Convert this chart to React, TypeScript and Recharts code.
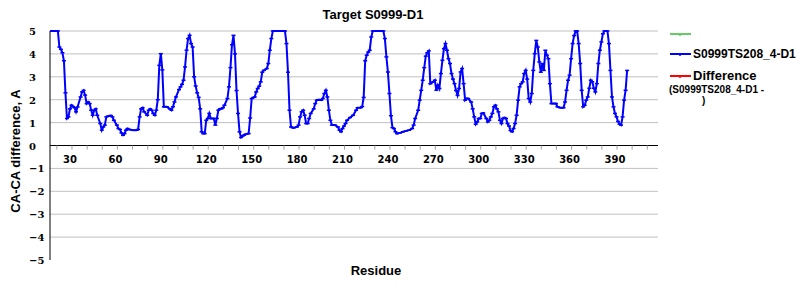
import React from "react"
import { LineChart, Line, XAxis, YAxis, ReferenceLine } from "recharts"

// residue numbers and CA-CA difference (capped at 5)
const residues = [
  17, 20, 22, 23, 24, 25, 26, 27, 28, 29, 30, 31, 32, 33, 34, 35, 37, 38, 39, 40,
  41, 42, 43, 44, 45, 46, 47, 48, 50, 51, 52, 53, 54, 55, 57, 58, 59, 61, 62, 63,
  64, 65, 66, 67, 68, 69, 72, 74, 75, 76, 77, 78, 79, 81, 82, 83, 84, 85, 86, 87,
  88, 89, 90, 91, 92, 94, 96, 97, 98, 99, 100, 102, 103, 104, 105, 106, 107, 108, 109, 110,
  111, 112, 113, 114, 115, 116, 117, 118, 119, 120, 121, 122, 123, 125, 126, 127, 128, 129, 130, 131,
  132, 134, 135, 136, 137, 138, 139, 140, 141, 142, 143, 144, 145, 146, 148, 149, 150, 151, 152, 153,
  154, 155, 156, 157, 158, 160, 161, 162, 163, 164, 166, 168, 170, 172, 173, 174, 175, 176, 177, 178,
  180, 181, 182, 183, 184, 185, 186, 187, 188, 189, 191, 192, 193, 194, 195, 196, 197, 198, 199, 200,
  201, 202, 203, 205, 207, 208, 209, 210, 211, 212, 213, 215, 217, 219, 220, 222, 223, 224, 225, 226,
  227, 228, 229, 230, 232, 234, 236, 237, 238, 239, 240, 241, 242, 243, 244, 245, 246, 248, 250, 252,
  254, 256, 257, 258, 260, 261, 262, 263, 264, 265, 266, 267, 268, 270, 271, 272, 273, 274, 275, 276,
  277, 278, 279, 280, 281, 282, 283, 284, 285, 286, 287, 288, 289, 290, 291, 292, 293, 295, 296, 297,
  298, 299, 300, 301, 302, 303, 305, 306, 307, 308, 309, 310, 311, 312, 313, 314, 315, 316, 317, 318,
  319, 320, 321, 322, 323, 324, 325, 326, 327, 328, 329, 330, 331, 332, 333, 334, 335, 336, 337, 338,
  339, 340, 341, 342, 343, 344, 345, 346, 347, 348, 350, 351, 352, 354, 356, 357, 358, 359, 360, 361,
  362, 363, 364, 365, 366, 367, 368, 369, 370, 371, 372, 373, 374, 375, 376, 377, 378, 379, 380, 381,
  382, 383, 384, 385, 386, 387, 388, 389, 390, 391, 392, 393, 394, 395, 396, 397, 398,
]

const diffValues = [
  5, 5, 5, 4.3, 4.2, 4.05, 3.7, 2.3, 1.18, 1.25, 1.6, 1.76, 1.7, 1.65, 1.47, 1.68, 2.12, 2.34, 2.41, 2.2,
  1.83, 1.9, 1.83, 1.54, 1.32, 1.54, 1.6, 1.32, 0.96, 0.67, 0.81, 0.89, 1.25, 1.28, 1.31, 1.25, 1.1, 0.89, 0.74, 0.7,
  0.55, 0.45, 0.52, 0.67, 0.74, 0.7, 0.67, 0.67, 0.7, 1.25, 1.6, 1.65, 1.47, 1.32, 1.54, 1.6, 1.54, 1.4, 1.32, 1.54,
  2.0, 3.5, 4.01, 3.3, 1.69, 1.69, 1.6, 1.54, 1.69, 1.9, 2.12, 2.44, 2.56, 2.67, 2.85, 3.43, 4.16, 4.67, 4.81, 4.45,
  4.3, 3.0, 2.6, 2.3, 2.1, 1.6, 0.6, 0.52, 0.52, 1.1, 1.18, 1.4, 1.18, 1.18, 0.89, 1.18, 1.54, 1.6, 1.6, 1.65,
  1.76, 2.05, 2.56, 3.4, 4.4, 4.81, 4.0, 2.4, 1.4, 0.6, 0.35, 0.41, 0.45, 0.49, 0.52, 1.2, 2.05, 2.09, 2.12, 2.34,
  2.49, 2.59, 2.78, 3.2, 3.28, 3.36, 3.58, 4.16, 4.67, 5, 5, 5, 5, 5, 4.45, 3.2, 1.54, 0.81, 0.78, 0.78,
  0.81, 0.89, 1.25, 1.47, 1.54, 1.32, 0.96, 0.96, 1.18, 1.4, 1.6, 1.83, 1.98, 2.0, 2.0, 1.98, 2.05, 2.27, 2.41, 2.12,
  1.54, 1.1, 0.89, 0.89, 0.81, 0.67, 0.6, 0.74, 0.85, 0.96, 1.1, 1.22, 1.32, 1.54, 1.65, 1.65, 1.7, 2.1, 3.7, 3.94,
  4.08, 4.16, 4.74, 5, 5, 5, 5, 5, 4.67, 3.87, 3.21, 2.27, 1.3, 0.78, 0.74, 0.6, 0.52, 0.55, 0.6, 0.64,
  0.67, 0.74, 0.89, 1.18, 1.54, 1.98, 2.41, 2.85, 3.4, 3.9, 4.05, 4.13, 2.7, 2.78, 2.85, 2.41, 2.63, 2.49, 3.14, 3.72,
  4.23, 4.45, 4.16, 3.79, 3.58, 3.14, 2.9, 2.7, 2.4, 2.19, 2.49, 3.21, 3.36, 2.7, 1.98, 2.05, 2.05, 1.9, 1.6, 1.25,
  0.93, 1.03, 1.18, 1.18, 1.4, 1.42, 1.18, 1.03, 1.1, 1.25, 1.4, 1.69, 1.76, 1.6, 1.47, 1.1, 0.96, 1.18, 1.22, 1.18,
  0.96, 0.85, 0.65, 0.6, 0.74, 0.96, 1.32, 1.98, 2.56, 2.7, 2.78, 3.14, 3.28, 2.9, 2.05, 1.9, 2.27, 3.28, 4.01, 4.59,
  4.3, 3.65, 3.2, 3.58, 3.28, 4.16, 3.94, 3.79, 2.7, 1.83, 1.83, 1.83, 1.69, 1.65, 1.65, 1.9, 2.41, 2.85, 3.07, 3.79,
  4.45, 4.8, 5, 5, 4.45, 3.58, 2.41, 1.69, 1.76, 1.98, 2.12, 2.5, 2.85, 2.78, 2.5, 2.34, 2.7, 3.58, 4.16, 4.52,
  4.88, 5, 5, 5, 4.45, 3.28, 2.12, 1.69, 1.4, 1.25, 1.05, 0.93, 0.89, 1.25, 1.98, 2.41, 3.28,
]

const xTicks = [20, 30, 40, 50, 60, 70, 80, 90, 100, 110, 120, 130, 140, 150, 160, 170, 180, 190, 200, 210,
  220, 230, 240, 250, 260, 270, 280, 290, 300, 310, 320, 330, 340, 350, 360, 370, 380, 390, 400, 410]
const yTicks = [-5, -4, -3, -2, -1, 0, 1, 2, 3, 4, 5]
const gridValues = [-4, -3, -2, -1, 1, 2, 3, 4, 5]

const seriesName = "S0999TS208_4-D1"
const title = "Target S0999-D1"

const data = residues.map((r, i) => ({ residue: r, diff: diffValues[i] }))

const PLOT_TOP = 31
const PLOT_H = 229
const X_AXIS_H = 20
const sansBold = "'Liberation Sans', Arial, sans-serif"

// x axis sits on the zero line, half way up the plot
const XTick = ({ x, y, payload }: any) => {
  const y0 = y - PLOT_H / 2
  return (
    <g>
      <line x1={x + 2} x2={x + 2} y1={y0} y2={y0 + 4} stroke="#a0a0a0" />
      {payload.value % 30 === 0 && (
        <text x={x} y={y0 + 17} textAnchor="middle" fontFamily="'DejaVu Sans', sans-serif"
          fontWeight="bold" fontSize={10} fill="#000">
          {payload.value}
        </text>
      )}
    </g>
  )
}

const YTick = ({ x, y, payload }: any) => (
  <text x={x - 21} y={y + 4} textAnchor="start" fontFamily="'DejaVu Serif', serif"
    fontWeight="bold" fontSize={10} fill="#000">
    {payload.value < 0 ? "\u2212" + Math.abs(payload.value) : payload.value}
  </text>
)

const Marker = ({ cx, cy }: any) => {
  if (cx == null || cy == null) return null
  return <line x1={cx - 2} x2={cx + 2} y1={cy} y2={cy} stroke="#0000ff" strokeWidth={1.5} />
}

export default function App() {
  return (
    <div style={{ position: "absolute", left: 0, top: 0, width: 800, height: 300, background: "#fff" }}>
      <LineChart width={800} height={300} data={data}
        margin={{ top: PLOT_TOP, right: 142, bottom: 300 - PLOT_TOP - PLOT_H - X_AXIS_H, left: 0 }}>
        <XAxis dataKey="residue" type="number" domain={[16.8, 418.4]} ticks={xTicks}
          allowDataOverflow height={X_AXIS_H} axisLine={false} tickLine={false} tickSize={0} tickMargin={0}
          tick={<XTick />} interval={0} />
        <YAxis type="number" domain={[-5, 5]} ticks={yTicks} width={50} interval={0}
          axisLine={{ stroke: "#000" }} tickLine={false} tickSize={0} tickMargin={0} tick={<YTick />} />
        {gridValues.map((v) => (
          <ReferenceLine key={v} y={v} stroke="#c0c0c0" strokeWidth={1} />
        ))}
        <ReferenceLine y={0} stroke="#000" strokeWidth={1} />
        <Line type="linear" dataKey="diff" stroke="#0000ff" strokeWidth={2}
          dot={<Marker />} activeDot={false} isAnimationActive={false} />
      </LineChart>
      <svg width={800} height={300} style={{ position: "absolute", left: 0, top: 0, pointerEvents: "none" }}>
        <text x={373} y={19} textAnchor="middle" fontFamily={sansBold} fontWeight="bold" fontSize={13}>
          {title}
        </text>
        <text transform="translate(20,151) rotate(-90)" textAnchor="middle" fontFamily={sansBold}
          fontWeight="bold" fontSize={13}>
          CA-CA difference, A
        </text>
        <text x={376} y={275} textAnchor="middle" fontFamily={sansBold} fontWeight="bold" fontSize={13}>
          Residue
        </text>
        <line x1={670} x2={691} y1={34} y2={34} stroke="#66cc66" strokeWidth={2} />
        <line x1={680} x2={680} y1={34} y2={36} stroke="#66cc66" strokeWidth={1.5} />
        <line x1={670} x2={691} y1={54} y2={54} stroke="#0000ff" strokeWidth={2} />
        <line x1={680} x2={680} y1={54} y2={56} stroke="#0000ff" strokeWidth={1.5} />
        <text x={693} y={58} fontFamily={sansBold} fontWeight="bold" fontSize={12}>{seriesName}</text>
        <line x1={670} x2={691} y1={76} y2={76} stroke="#ff0000" strokeWidth={2} />
        <line x1={680} x2={680} y1={76} y2={78} stroke="#ff0000" strokeWidth={1.5} />
        <text x={693} y={80} fontFamily={sansBold} fontWeight="bold" fontSize={13}>Difference</text>
        <text x={669} y={93} fontFamily={sansBold} fontWeight="bold" fontSize={10}>({seriesName} -</text>
        <text x={702} y={104} fontFamily={sansBold} fontWeight="bold" fontSize={10}>)</text>
      </svg>
    </div>
  )
}
